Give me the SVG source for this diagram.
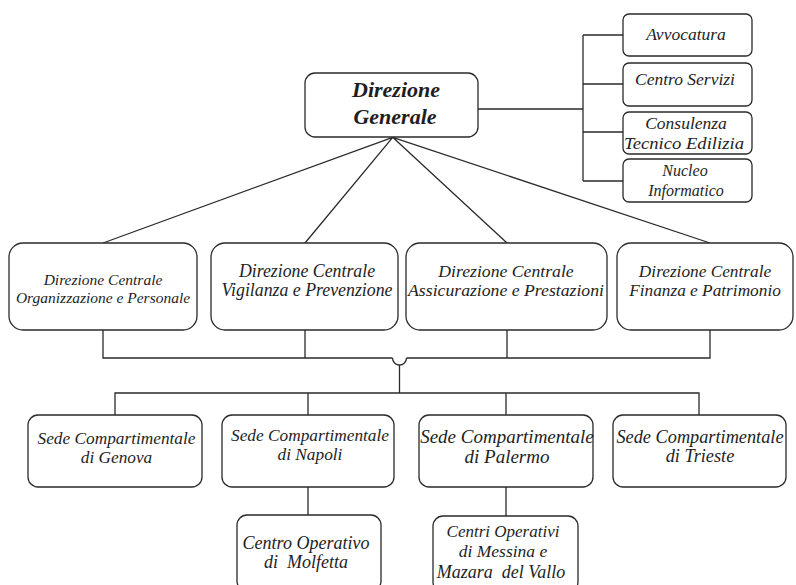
<svg xmlns="http://www.w3.org/2000/svg" width="796" height="585" viewBox="0 0 796 585">
<style>
  .box { fill: #ffffff; stroke: #2a2a2a; stroke-width: 1.3; }
  .conn { fill: none; stroke: #2a2a2a; stroke-width: 1.3; }
</style>
<rect width="796" height="585" fill="#ffffff"/>
<g id="connectors">
  <path class="conn" d="M392.7,137.3 L103,243 M392.7,137.3 L305,243 M392.7,137.3 L507,243 M392.7,137.3 L710,243"/>
  <path class="conn" d="M478,109 H583 M583,35 V181 M583,35 H623 M583,84 H623 M583,132 H623 M583,181 H623"/>
  <path class="conn" d="M103,330 V358 H392.5 M406.5,358 H710 V330 M305,330 V358 M507,330 V358"/>
  <path class="conn" d="M392.5,358 A7,7 0 0 0 406.5,358"/>
  <path class="conn" d="M399.5,365 V393"/>
  <path class="conn" d="M115,415 V393 H699 V415 M308,393 V415 M506,393 V415"/>
  <path class="conn" d="M308,487 V515 M506,487 V516"/>
</g>
<g font-family="Liberation Serif, Times New Roman, serif" font-style="italic" fill="#1e1e1e" text-anchor="middle">
<g id="dg">
  <rect class="box" x="305" y="73" width="173" height="64" rx="10"/>
  <text font-size="22" font-weight="bold" font-family="Liberation Serif, serif" x="396" y="97">Direzione</text>
  <text font-size="22" font-weight="bold" font-family="Liberation Serif, serif" x="395" y="124">Generale</text>
</g>
<g id="avvocatura">
  <rect class="box" x="623" y="14" width="129" height="42" rx="6"/>
  <text font-size="17.5" font-family="Liberation Serif, serif" x="686" y="40">Avvocatura</text>
</g>
<g id="centro-servizi">
  <rect class="box" x="623" y="63" width="129" height="43" rx="6"/>
  <text font-size="17.5" font-family="Liberation Serif, serif" x="685" y="85">Centro Servizi</text>
</g>
<g id="consulenza">
  <rect class="box" x="623" y="112" width="129" height="42" rx="6"/>
  <text font-size="17.5" font-family="Liberation Serif, serif" x="686" y="129">Consulenza</text>
  <text font-size="17.5" font-family="Liberation Serif, serif" x="684" y="149" textLength="120" lengthAdjust="spacingAndGlyphs">Tecnico Edilizia</text>
</g>
<g id="nucleo">
  <rect class="box" x="623" y="159" width="129" height="43" rx="6"/>
  <text font-size="16" font-family="Liberation Serif, serif" x="685" y="176">Nucleo</text>
  <text font-size="16" font-family="Liberation Serif, serif" x="686" y="196">Informatico</text>
</g>
<g id="dc-organizzazione">
  <rect class="box" x="9" y="243" width="188" height="87" rx="14"/>
  <text font-size="15.5" font-family="Liberation Serif, serif" x="103" y="285">Direzione Centrale</text>
  <text font-size="15.5" font-family="Liberation Serif, serif" x="103" y="303">Organizzazione e Personale</text>
</g>
<g id="dc-vigilanza">
  <rect class="box" x="211" y="243" width="187" height="87" rx="14"/>
  <text font-size="17.8" font-family="Liberation Serif, serif" x="307" y="276.5">Direzione Centrale</text>
  <text font-size="17.8" font-family="Liberation Serif, serif" x="307" y="295.5">Vigilanza e Prevenzione</text>
</g>
<g id="dc-assicurazione">
  <rect class="box" x="406" y="243" width="201" height="87" rx="14"/>
  <text font-size="17.7" font-family="Liberation Serif, serif" x="506" y="276.5">Direzione Centrale</text>
  <text font-size="17.7" font-family="Liberation Serif, serif" x="506" y="295.5">Assicurazione e Prestazioni</text>
</g>
<g id="dc-finanza">
  <rect class="box" x="617" y="243" width="176" height="87" rx="14"/>
  <text font-size="17.3" font-family="Liberation Serif, serif" x="705" y="276.5">Direzione Centrale</text>
  <text font-size="17.3" font-family="Liberation Serif, serif" x="705" y="295.5">Finanza e Patrimonio</text>
</g>
<g id="sede-genova">
  <rect class="box" x="28" y="415" width="174" height="72" rx="10"/>
  <text font-size="17.3" font-family="Liberation Serif, serif" x="116.5" y="444">Sede Compartimentale</text>
  <text font-size="17.3" font-family="Liberation Serif, serif" x="116.5" y="463">di Genova</text>
</g>
<g id="sede-napoli">
  <rect class="box" x="222" y="415" width="172" height="72" rx="10"/>
  <text font-size="17.3" font-family="Liberation Serif, serif" x="310" y="440.5">Sede Compartimentale</text>
  <text font-size="17.3" font-family="Liberation Serif, serif" x="310" y="459.5">di Napoli</text>
</g>
<g id="sede-palermo">
  <rect class="box" x="419" y="415" width="174" height="72" rx="10"/>
  <text font-size="19" font-family="Liberation Serif, serif" x="507" y="443">Sede Compartimentale</text>
  <text font-size="19" font-family="Liberation Serif, serif" x="507" y="462.5">di Palermo</text>
</g>
<g id="sede-trieste">
  <rect class="box" x="613" y="415" width="173" height="72" rx="10"/>
  <text font-size="18.3" font-family="Liberation Serif, serif" x="700" y="443">Sede Compartimentale</text>
  <text font-size="18.3" font-family="Liberation Serif, serif" x="700" y="462">di Trieste</text>
</g>
<g id="co-molfetta">
  <rect class="box" x="237" y="515" width="144" height="76" rx="10"/>
  <text font-size="18" font-family="Liberation Serif, serif" x="306" y="549">Centro Operativo</text>
  <text font-size="18" font-family="Liberation Serif, serif" x="306" y="568" xml:space="preserve">di  Molfetta</text>
</g>
<g id="co-messina">
  <rect class="box" x="433" y="516" width="145" height="76" rx="10"/>
  <text font-size="17" font-family="Liberation Serif, serif" x="503" y="537">Centri Operativi</text>
  <text font-size="17.5" font-family="Liberation Serif, serif" x="503" y="557">di Messina e</text>
  <text font-size="18" font-family="Liberation Serif, serif" x="501" y="578" xml:space="preserve">Mazara  del Vallo</text>
</g>
</g>
</svg>
